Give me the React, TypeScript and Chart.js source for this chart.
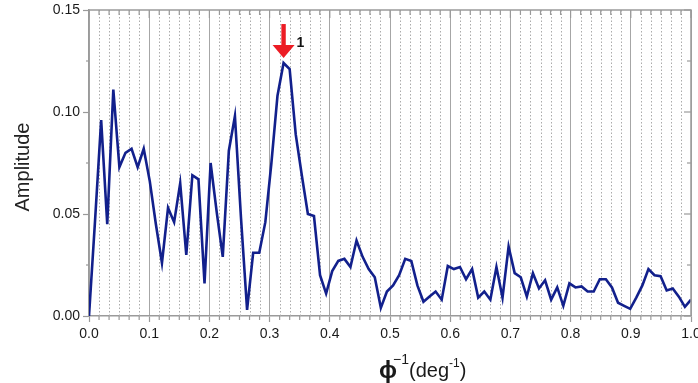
import React, { useEffect, useRef } from "react";
import { Chart, registerables } from "chart.js";

Chart.register(...registerables);

// Spatial frequency samples (phi^-1, deg^-1)
const frequency = [
  0, 0.0101, 0.0202, 0.0303, 0.0404, 0.0505, 0.0606, 0.0707, 0.0808, 0.0909,
  0.101, 0.1111, 0.1212, 0.1313, 0.1414, 0.1515, 0.1616, 0.1717, 0.1818, 0.1919,
  0.202, 0.2121, 0.2222, 0.2323, 0.2424, 0.2525, 0.2626, 0.2727, 0.2828, 0.2929,
  0.303, 0.3131, 0.3232, 0.3333, 0.3434, 0.3535, 0.3636, 0.3737, 0.3838, 0.3939,
  0.404, 0.4141, 0.4242, 0.4343, 0.4444, 0.4545, 0.4646, 0.4747, 0.4848, 0.4949,
  0.5051, 0.5152, 0.5253, 0.5354, 0.5455, 0.5556, 0.5657, 0.5758, 0.5859, 0.596,
  0.6061, 0.6162, 0.6263, 0.6364, 0.6465, 0.6566, 0.6667, 0.6768, 0.6869, 0.697,
  0.7071, 0.7172, 0.7273, 0.7374, 0.7475, 0.7576, 0.7677, 0.7778, 0.7879, 0.798,
  0.8081, 0.8182, 0.8283, 0.8384, 0.8485, 0.8586, 0.8687, 0.8788, 0.8889, 0.899,
  0.9091, 0.9192, 0.9293, 0.9394, 0.9495, 0.9596, 0.9697, 0.9798, 0.9899, 1.0,
];

const amplitude = [
  0, 0.047, 0.096, 0.045, 0.111, 0.073, 0.08, 0.082, 0.073, 0.082,
  0.066, 0.045, 0.026, 0.053, 0.046, 0.065, 0.03, 0.069, 0.067, 0.016,
  0.075, 0.051, 0.029, 0.081, 0.098, 0.048, 0.003, 0.031, 0.031, 0.046,
  0.075, 0.108, 0.124, 0.121, 0.089, 0.069, 0.05, 0.049, 0.02, 0.011,
  0.022, 0.027, 0.028, 0.024, 0.037, 0.029, 0.023, 0.019, 0.004, 0.012,
  0.015, 0.02, 0.028, 0.027, 0.015, 0.007, 0.0095, 0.012, 0.008, 0.0245,
  0.023, 0.024, 0.018, 0.023, 0.009, 0.012, 0.008, 0.024, 0.009, 0.034,
  0.021, 0.019, 0.0095, 0.021, 0.0135, 0.0175, 0.008, 0.014, 0.005, 0.016,
  0.014, 0.0145, 0.012, 0.012, 0.018, 0.018, 0.014, 0.0065, 0.005, 0.0035,
  0.009, 0.015, 0.023, 0.02, 0.0195, 0.0125, 0.0135, 0.0095, 0.0045, 0.008,
];

const xTickLabels = ["0.0", "0.1", "0.2", "0.3", "0.4", "0.5", "0.6", "0.7", "0.8", "0.9", "1.0"];
const yTickLabels = ["0.00", "0.05", "0.10", "0.15"];
const yAxisTitle = "Amplitude";
const peakIndex = 32;
const peakLabel = "1";

const FONT = "'Liberation Sans', Arial, sans-serif";
const AXIS_COLOR = "#9a9a9a";

const decorations = {
  id: "decorations",
  beforeDatasetsDraw(chart: any) {
    const { ctx, chartArea: a, scales } = chart;
    const xs = scales.x;
    ctx.save();
    ctx.strokeStyle = "#ababab";
    ctx.lineWidth = 1;
    ctx.setLineDash([1.5, 2]);
    for (let i = 1; i < 60; i++) {
      if (i % 6 === 0) continue;
      const px = Math.round(xs.getPixelForValue(i / 60)) + 0.5;
      ctx.beginPath();
      ctx.moveTo(px, a.top);
      ctx.lineTo(px, a.bottom);
      ctx.stroke();
    }
    ctx.restore();
  },
  afterDraw(chart: any) {
    const { ctx, chartArea: a, scales } = chart;
    const xs = scales.x;
    const ys = scales.y;
    ctx.save();
    // frame top and right
    ctx.strokeStyle = AXIS_COLOR;
    ctx.lineWidth = 1.5;
    ctx.beginPath();
    ctx.moveTo(a.left, a.top);
    ctx.lineTo(a.right, a.top);
    ctx.lineTo(a.right, a.bottom);
    ctx.stroke();
    // ticks
    ctx.lineWidth = 1.2;
    for (let i = 0; i <= 60; i++) {
      const px = xs.getPixelForValue(i / 60);
      const major = i % 6 === 0;
      ctx.beginPath();
      ctx.moveTo(px, a.top);
      ctx.lineTo(px, a.top + (major ? 8 : 5));
      ctx.stroke();
      if (!major) {
        ctx.beginPath();
        ctx.moveTo(px, a.bottom);
        ctx.lineTo(px, a.bottom + 4);
        ctx.stroke();
      }
    }
    for (let j = 0; j <= 6; j++) {
      const py = ys.getPixelForValue(j * 0.025);
      const major = j % 2 === 0;
      ctx.beginPath();
      ctx.moveTo(a.right, py);
      ctx.lineTo(a.right - (major ? 7 : 4), py);
      ctx.stroke();
      if (!major) {
        ctx.beginPath();
        ctx.moveTo(a.left, py);
        ctx.lineTo(a.left - 3, py);
        ctx.stroke();
      }
    }
    // arrow at the peak
    const ax = xs.getPixelForValue(frequency[peakIndex]);
    const tip = ys.getPixelForValue(amplitude[peakIndex]) - 5;
    ctx.fillStyle = "#ec1c24";
    ctx.fillRect(ax - 2.2, tip - 34, 4.4, 22);
    ctx.beginPath();
    ctx.moveTo(ax - 11, tip - 13);
    ctx.lineTo(ax + 11, tip - 13);
    ctx.lineTo(ax, tip);
    ctx.closePath();
    ctx.fill();
    ctx.fillStyle = "#111";
    ctx.font = `bold 14px ${FONT}`;
    ctx.textAlign = "left";
    ctx.textBaseline = "alphabetic";
    ctx.fillText(peakLabel, ax + 13, tip - 11);
    // y axis title
    ctx.save();
    ctx.translate(23, 167);
    ctx.rotate(-Math.PI / 2);
    ctx.font = `20px ${FONT}`;
    ctx.fillStyle = "#222";
    ctx.textAlign = "center";
    ctx.textBaseline = "middle";
    ctx.fillText(yAxisTitle, 0, 0);
    ctx.restore();
    // x axis title: phi^-1 (deg^-1)
    const baseY = 377;
    ctx.fillStyle = "#1a1a1a";
    ctx.textAlign = "left";
    ctx.textBaseline = "alphabetic";
    ctx.font = `bold 24px ${FONT}`;
    ctx.fillText("\u03D5", 379, baseY + 1);
    ctx.font = `14px ${FONT}`;
    ctx.fillText("\u22121", 393, baseY - 13);
    let cx = 409;
    ctx.font = `20px ${FONT}`;
    ctx.fillText("(deg", cx, baseY);
    cx += ctx.measureText("(deg").width;
    ctx.font = `12px ${FONT}`;
    ctx.fillText("-1", cx, baseY - 10);
    cx += ctx.measureText("-1").width;
    ctx.font = `20px ${FONT}`;
    ctx.fillText(")", cx, baseY);
    ctx.restore();
  },
};

export default function App() {
  const ref = useRef<HTMLCanvasElement | null>(null);
  useEffect(() => {
    document.body.style.margin = "0";
    if (!ref.current) return;
    const chart = new Chart(ref.current, {
      type: "line",
      data: {
        datasets: [
          {
            data: frequency.map((x, i) => ({ x, y: amplitude[i] })),
            borderColor: "#12208c",
            borderWidth: 2.6,
            pointRadius: 0,
            tension: 0,
            fill: false,
          },
        ],
      },
      options: {
        animation: false,
        responsive: false,
        devicePixelRatio: 1,
        layout: { padding: { left: 0, top: 10, right: 7, bottom: 0 } },
        plugins: { legend: { display: false }, tooltip: { enabled: false } },
        scales: {
          x: {
            type: "linear",
            min: 0,
            max: 1,
            ticks: {
              stepSize: 0.1,
              autoSkip: false,
              maxRotation: 0,
              padding: 4,
              color: "#1a1a1a",
              font: { family: FONT, size: 14 },
              callback: (v: any) => xTickLabels[Math.round(Number(v) * 10)] ?? "",
            },
            grid: {
              color: "#a6a6a6",
              lineWidth: 1,
              drawTicks: true,
              tickLength: 6,
              tickColor: AXIS_COLOR,
              tickWidth: 1.2,
            },
            border: { color: AXIS_COLOR, width: 1.5 },
            afterFit: (s: any) => {
              s.height = 67;
              s.paddingLeft = 0;
              s.paddingRight = 0;
            },
          },
          y: {
            type: "linear",
            min: 0,
            max: 0.15,
            ticks: {
              stepSize: 0.05,
              padding: 3,
              color: "#1a1a1a",
              font: { family: FONT, size: 14 },
              callback: (v: any) => yTickLabels[Math.round(Number(v) / 0.05)] ?? "",
            },
            grid: {
              drawOnChartArea: false,
              drawTicks: true,
              tickLength: 6,
              tickColor: AXIS_COLOR,
              tickWidth: 1.2,
            },
            border: { color: AXIS_COLOR, width: 1.5 },
            afterFit: (s: any) => {
              s.width = 89;
              s.paddingTop = 0;
              s.paddingBottom = 0;
            },
          },
        },
      } as any,
      plugins: [decorations],
    });
    return () => chart.destroy();
  }, []);
  return (
    <div style={{ width: 698, height: 383, background: "#fff" }}>
      <canvas ref={ref} width={698} height={383} style={{ display: "block" }} />
    </div>
  );
}
